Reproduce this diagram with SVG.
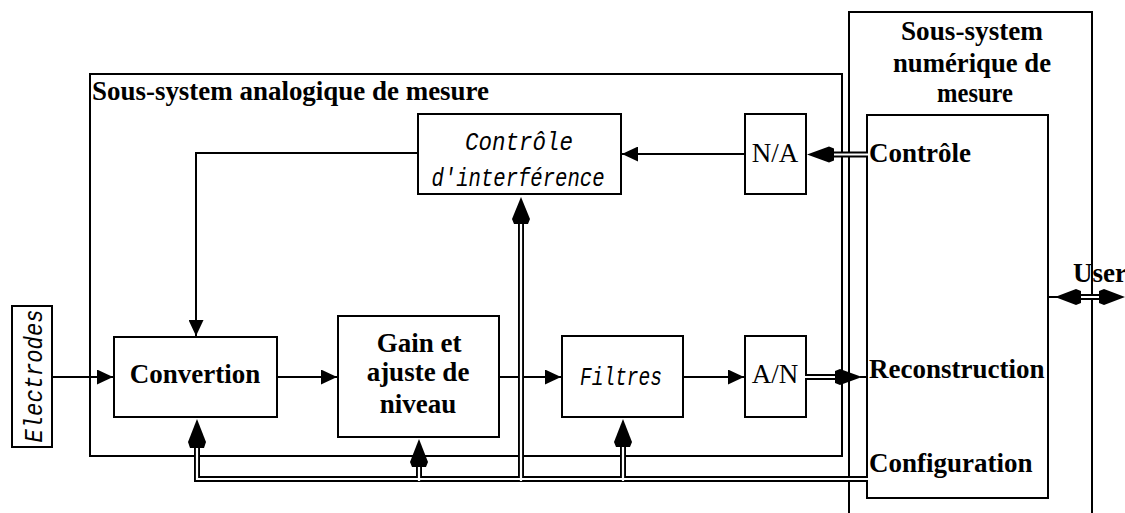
<svg xmlns="http://www.w3.org/2000/svg" width="1125" height="513" viewBox="0 0 1125 513">
<style>
.box{fill:none;stroke:#000;stroke-width:2}
.bl{font-family:"Liberation Serif","Times New Roman",serif;font-size:27px;font-weight:bold;fill:#000}
.rg{font-family:"Liberation Serif","Times New Roman",serif;font-size:27px;fill:#000}
.it{font-family:"Liberation Mono","Courier New",monospace;font-size:26px;font-style:italic;fill:#000}
.ln{fill:none;stroke:#000;stroke-width:2}
.dO{fill:none;stroke:#000;stroke-width:6}
.dI{fill:none;stroke:#fff;stroke-width:2.2}
.hd{fill:#000;stroke:none}
</style>
<defs>
<marker id="ar" markerUnits="userSpaceOnUse" markerWidth="17" markerHeight="15" refX="16" refY="7.5" orient="auto">
<path d="M0,0 L16,7.5 L0,15 z" fill="#000"/>
</marker>
</defs>
<rect width="1125" height="513" fill="#fff"/>

<g id="analog">
<rect class="box" x="90" y="74" width="752" height="382"/>
<text class="bl" x="92" y="100" textLength="397" lengthAdjust="spacingAndGlyphs">Sous-system analogique de mesure</text>
</g>
<g id="numeric">
<rect class="box" x="849" y="12" width="243" height="520"/>
<text class="bl" text-anchor="middle" x="972" y="40" textLength="142" lengthAdjust="spacingAndGlyphs">Sous-system</text>
<text class="bl" text-anchor="middle" x="972" y="72" textLength="158" lengthAdjust="spacingAndGlyphs">numérique de</text>
<text class="bl" text-anchor="middle" x="975" y="102" textLength="76" lengthAdjust="spacingAndGlyphs">mesure</text>
</g>
<g id="numeric-inner">
<rect class="box" x="867" y="115" width="181" height="383"/>
<text class="bl" x="869" y="162">Contrôle</text>
<text class="bl" x="869" y="378">Reconstruction</text>
<text class="bl" x="869" y="472">Configuration</text>
</g>
<g id="user">
<text class="bl" x="1073" y="282">User</text>
</g>
<g id="interference">
<rect class="box" x="418" y="114" width="203" height="80"/>
<text class="it" text-anchor="middle" x="519" y="150" textLength="108" lengthAdjust="spacingAndGlyphs">Contrôle</text>
<text class="it" text-anchor="middle" x="518" y="186" textLength="173" lengthAdjust="spacingAndGlyphs">d'interférence</text>
</g>
<g id="na">
<rect class="box" x="745" y="114" width="61" height="80"/>
<text class="rg" text-anchor="middle" x="775" y="162">N/A</text>
</g>
<g id="electrodes">
<rect class="box" x="12" y="306" width="40" height="141"/>
<text class="it" text-anchor="middle" transform="translate(42,376) rotate(-90)" textLength="133" lengthAdjust="spacingAndGlyphs">Electrodes</text>
</g>
<g id="convertion">
<rect class="box" x="114" y="337" width="163" height="80"/>
<text class="bl" text-anchor="middle" x="195" y="383">Convertion</text>
</g>
<g id="gain">
<rect class="box" x="338" y="316" width="161" height="121"/>
<text class="bl" text-anchor="middle" x="419" y="352">Gain et</text>
<text class="bl" text-anchor="middle" x="418" y="381">ajuste de</text>
<text class="bl" text-anchor="middle" x="418" y="413">niveau</text>
</g>
<g id="filtres">
<rect class="box" x="562" y="336" width="121" height="81"/>
<text class="it" text-anchor="middle" x="621" y="385" textLength="82" lengthAdjust="spacingAndGlyphs">Filtres</text>
</g>
<g id="an">
<rect class="box" x="745" y="336" width="61" height="81"/>
<text class="rg" text-anchor="middle" x="775" y="383">A/N</text>
</g>

<g id="connectors">
<path class="ln" d="M52,377 H113" marker-end="url(#ar)"/>
<path class="ln" d="M277,377 H337" marker-end="url(#ar)"/>
<path class="ln" d="M499,377 H561" marker-end="url(#ar)"/>
<path class="ln" d="M683,377 H744" marker-end="url(#ar)"/>
<path class="ln" d="M418,153 H196 V336" marker-end="url(#ar)"/>
<path class="ln" d="M745,154 H622" marker-end="url(#ar)"/>
<path class="ln" d="M860,377 H867"/>
<path class="ln" d="M1048,297 H1058"/>

<path class="dO" d="M197,446 V479 H867 M419,479 V465 M623,479 V445 M521,479 V221 M806,377 H838 M867,154.5 H832 M1078,297 H1102"/>
<path class="dI" d="M197,446 V479 H869 M419,481 V465 M623,481 V445 M521,481 V221 M804,377 H838 M869,154.5 H832 M1078,297 H1102"/>

<polygon class="hd" points="197,419 206,442 204,448 190,448 188,442"/>
<polygon class="hd" points="419,439 428,462 426,467 412,467 410,462"/>
<polygon class="hd" points="623,419 632,442 630,447 616,447 614,442"/>
<polygon class="hd" points="521,197 530,219 528,224 514,224 512,219"/>
<polygon class="hd" points="862,377 840,369 835,371 835,383 840,385"/>
<polygon class="hd" points="807,154.5 829,146.5 834,148.5 834,160.5 829,162.5"/>
<polygon class="hd" points="1055,297 1076,289 1081,291 1081,303 1076,305"/>
<polygon class="hd" points="1125,297 1104,289 1099,291 1099,303 1104,305"/>
</g>
</svg>
